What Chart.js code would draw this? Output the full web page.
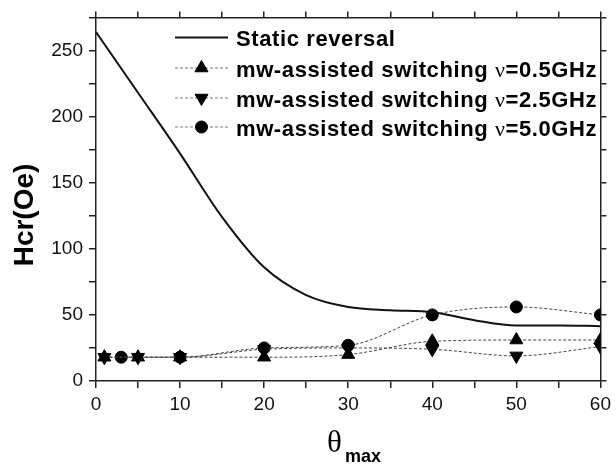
<!DOCTYPE html>
<html><head><meta charset="utf-8">
<script src="https://cdn.jsdelivr.net/npm/chart.js@4/dist/chart.umd.min.js"></script>
<style>html,body{margin:0;padding:0;background:#fff;} #wrap{width:616px;height:468px;position:relative;}</style>
</head><body><div id="wrap"><canvas id="c" width="616" height="468"></canvas></div>
<script>
// ---- data ----
const staticX   = [0, 5, 10, 15, 20, 25, 30, 35, 40, 45, 50, 55, 60];
const staticHcr = [264, 218, 172, 124, 86, 65, 56, 53.5, 52, 46, 42, 42, 41.5];
const f05X   = [1, 5, 10, 20, 30, 40, 50, 60];
const f05Hcr = [18, 18, 18, 18, 20, 30, 31, 31];
const f25X   = [1, 5, 10, 20, 30, 40, 50, 60];
const f25Hcr = [18, 18, 18, 24, 25, 24, 19, 26];
const f50X   = [3, 10, 20, 30, 40, 50, 60];
const f50Hcr = [18, 18, 25, 27, 50, 56, 50];
const legendPrefix = ['Static reversal', 'mw-assisted switching ', 'mw-assisted switching ', 'mw-assisted switching '];
const legendNu = ['', 'ν', 'ν', 'ν'];
const legendSuffix = ['', '=0.5GHz', '=2.5GHz', '=5.0GHz'];
const xLabelTicks = [0, 10, 20, 30, 40, 50, 60];
const yLabelTicks = [0, 50, 100, 150, 200, 250];
const xTitleMain = 'θ';
const xTitleSub = 'max';
const yTitle = 'Hcr(Oe)';

const zip = (xs, ys) => xs.map((x, i) => ({x, y: ys[i]}));

const SANS = '"Liberation Sans", Arial, sans-serif';
const SERIF = '"Liberation Serif", "Times New Roman", serif';

const overlay = {
  id: 'overlay',
  afterDraw(chart) {
    const ctx = chart.ctx;
    ctx.save();
    ctx.fillStyle = '#000';
    // y title
    ctx.save();
    ctx.translate(25, 215);
    ctx.rotate(-Math.PI / 2);
    ctx.font = 'bold 28px ' + SANS;
    ctx.textAlign = 'center';
    ctx.textBaseline = 'middle';
    ctx.fillText(yTitle, 0, 0);
    ctx.restore();
    // x title
    ctx.textAlign = 'left';
    ctx.textBaseline = 'alphabetic';
    ctx.font = '31px ' + SERIF;
    ctx.fillText(xTitleMain, 327, 452);
    ctx.font = 'bold 18px ' + SANS;
    ctx.fillText(xTitleSub, 345, 462);
    // legend
    const rows = [37.5, 68, 98, 127];
    const ds = chart.data.datasets;
    for (let i = 0; i < ds.length; i++) {
      const d = ds[i];
      const y = rows[i];
      ctx.save();
      ctx.strokeStyle = i === 0 ? '#111' : '#777';
      ctx.lineWidth = i === 0 ? 2 : 1;
      ctx.setLineDash(i === 0 ? [] : [3, 2]);
      ctx.beginPath();
      ctx.moveTo(175, y);
      ctx.lineTo(228, y);
      ctx.stroke();
      ctx.restore();
      if (d.pointRadius > 0) {
        ctx.save();
        ctx.fillStyle = '#000';
        ctx.strokeStyle = '#000';
        ctx.lineWidth = 1;
        Chart.helpers.drawPoint(ctx, {pointStyle: d.pointStyle, radius: d.pointRadius, rotation: d.pointRotation || 0, borderWidth: 1}, 201.5, y);
        ctx.restore();
      }
      let x = 236;
      const by = y + 8.5;
      ctx.fillStyle = '#000';
      ctx.letterSpacing = '0.6px';
      ctx.font = 'bold 22px ' + SANS;
      ctx.fillText(legendPrefix[i], x, by);
      x += ctx.measureText(legendPrefix[i]).width;
      if (legendNu[i]) {
        ctx.font = '22px ' + SERIF;
        ctx.fillText(legendNu[i], x, by);
        x += ctx.measureText(legendNu[i]).width;
        ctx.font = 'bold 22px ' + SANS;
        ctx.fillText(legendSuffix[i], x, by);
      }
      ctx.letterSpacing = '0px';
    }
    ctx.restore();
  }
};

const axisColor = '#222';
const tickFont = {family: SANS, size: 19};

new Chart(document.getElementById('c'), {
  type: 'line',
  data: {
    datasets: [
      {label: legendPrefix[0], data: zip(staticX, staticHcr), borderColor: '#111', borderWidth: 2, pointRadius: 0, cubicInterpolationMode: 'monotone', fill: false},
      {label: legendPrefix[1] + legendNu[1] + legendSuffix[1], data: zip(f05X, f05Hcr), borderColor: '#444', borderWidth: 1, borderDash: [3, 2], pointStyle: 'triangle', pointRadius: 7.5, pointRotation: 0, pointBackgroundColor: '#000', pointBorderColor: '#000', pointBorderWidth: 1, cubicInterpolationMode: 'monotone', fill: false},
      {label: legendPrefix[2] + legendNu[2] + legendSuffix[2], data: zip(f25X, f25Hcr), borderColor: '#444', borderWidth: 1, borderDash: [3, 2], pointStyle: 'triangle', pointRadius: 7.5, pointRotation: 180, pointBackgroundColor: '#000', pointBorderColor: '#000', pointBorderWidth: 1, cubicInterpolationMode: 'monotone', fill: false},
      {label: legendPrefix[3] + legendNu[3] + legendSuffix[3], data: zip(f50X, f50Hcr), borderColor: '#444', borderWidth: 1, borderDash: [3, 2], pointStyle: 'circle', pointRadius: 6, pointBackgroundColor: '#000', pointBorderColor: '#000', pointBorderWidth: 1, cubicInterpolationMode: 'monotone', fill: false}
    ]
  },
  options: {
    responsive: false,
    animation: false,
    devicePixelRatio: 1,
    layout: {padding: 0},
    plugins: {legend: {display: false}, tooltip: {enabled: false}},
    scales: {
      x: {
        type: 'linear', position: 'bottom', min: 0, max: 60,
        ticks: {stepSize: 5, color: '#111', font: tickFont, padding: 5, maxRotation: 0,
          callback: v => xLabelTicks.includes(v) ? String(v) : ''},
        grid: {drawOnChartArea: false, tickLength: 7, color: axisColor, lineWidth: 1.5},
        border: {color: axisColor, width: 1.5},
        afterFit: s => { s.height = 87; }
      },
      x2: {
        type: 'linear', position: 'top', min: 0, max: 60,
        ticks: {stepSize: 5, display: false},
        grid: {drawOnChartArea: false, tickLength: 6, color: axisColor, lineWidth: 1.5},
        border: {color: axisColor, width: 1.5},
        afterFit: s => { s.height = 7; }
      },
      y: {
        type: 'linear', position: 'left', min: 0, max: 275,
        ticks: {stepSize: 25, color: '#111', font: tickFont, padding: 6,
          callback: v => yLabelTicks.includes(v) ? String(v) : ''},
        grid: {drawOnChartArea: false, tickLength: 7, color: axisColor, lineWidth: 1.5},
        border: {color: axisColor, width: 1.5},
        afterFit: s => { s.width = 96; }
      },
      y2: {
        type: 'linear', position: 'right', min: 0, max: 275,
        ticks: {stepSize: 25, display: false},
        grid: {drawOnChartArea: false, tickLength: 6, color: axisColor, lineWidth: 1.5},
        border: {color: axisColor, width: 1.5},
        afterFit: s => { s.width = 10; }
      }
    }
  },
  plugins: [overlay]
});
</script>
</body></html>
